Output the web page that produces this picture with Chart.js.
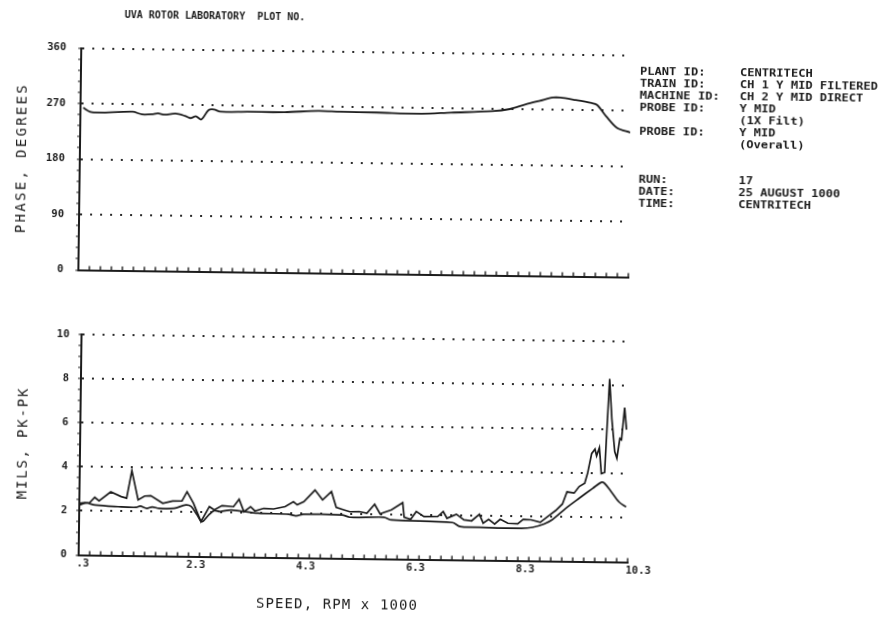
<!DOCTYPE html>
<html>
<head>
<meta charset="utf-8">
<title>UVA Rotor Laboratory</title>
<script src="https://cdn.jsdelivr.net/npm/chart.js@4.4.1/dist/chart.umd.min.js"></script>
<style>
  html, body { margin: 0; padding: 0; background: #ffffff; overflow: hidden; }
  #sheet {
    position: relative; width: 884px; height: 628px; background: #ffffff;
    transform: rotate(0.75deg); transform-origin: 354px 300px;
  }
  #phaseCanvas { position: absolute; left: 0; top: 0; }
  #milsCanvas { position: absolute; left: 0; top: 300px; }
</style>
</head>
<body>
<div id="sheet">
  <canvas id="phaseCanvas" width="884" height="300"></canvas>
  <canvas id="milsCanvas" width="884" height="328"></canvas>
</div>
<script>
// Axis tick values and labels
const phaseTicks = [0, 90, 180, 270, 360];
const milsTicks = [0, 2, 4, 6, 8, 10];
const speedTicks = [0.3, 2.3, 4.3, 6.3, 8.3, 10.3];
const speedTickLabels = ['.3', '2.3', '4.3', '6.3', '8.3', '10.3'];

// Phase of the 1X filtered signal, degrees vs speed (RPM x 1000)
const phaseRpm = [0.35, 0.48, 0.65, 1.25, 1.42, 1.62, 1.71, 1.83, 2.03, 2.20, 2.30, 2.40, 2.50, 2.63, 2.73, 2.84,
  3.34, 4.01, 4.62, 5.02, 5.69, 6.50, 7.04, 7.78, 8.11, 8.38, 8.65, 8.89, 9.02, 9.26, 9.59, 9.69, 9.86, 10.06, 10.30];
const phaseDeg = [263, 256.5, 255.5, 257.5, 253.5, 254, 255.5, 253.5, 255.5, 252, 248.5, 251.5, 246.5, 262, 263, 259.5,
  260, 260, 263, 262, 261.5, 260.5, 263, 266, 270, 277.5, 284, 289.5, 289.5, 286.5, 281.5, 278.5, 260, 241.5, 234.5];

// Overall (direct) amplitude, mils pk-pk
const overallRpm = [0.30, 0.38, 0.49, 0.58, 0.66, 0.87, 1.06, 1.16, 1.25, 1.37, 1.49, 1.60, 1.82, 2.00, 2.17, 2.26,
  2.38, 2.52, 2.67, 2.76, 2.90, 3.11, 3.21, 3.30, 3.42, 3.50, 3.66, 3.84, 4.05, 4.20, 4.27, 4.39, 4.59, 4.73, 4.89,
  4.98, 5.12, 5.23, 5.40, 5.54, 5.68, 5.78, 5.99, 6.19, 6.22, 6.34, 6.44, 6.58, 6.83, 6.93, 7.00, 7.17, 7.31, 7.45,
  7.59, 7.66, 7.76, 7.87, 7.97, 8.11, 8.29, 8.39, 8.53, 8.70, 8.86, 8.98, 9.10, 9.18, 9.31, 9.40, 9.50, 9.55, 9.62,
  9.68, 9.71, 9.76, 9.80, 9.86, 9.93, 9.98, 10.04, 10.08, 10.13, 10.16, 10.21, 10.25];
const overallMils = [2.26, 2.34, 2.38, 2.62, 2.46, 2.88, 2.67, 2.60, 3.85, 2.53, 2.71, 2.73, 2.39, 2.50, 2.51, 2.93,
  2.41, 1.58, 2.27, 2.12, 2.32, 2.28, 2.62, 2.06, 2.29, 2.10, 2.22, 2.20, 2.31, 2.54, 2.40, 2.55, 3.08, 2.64, 3.02,
  2.31, 2.20, 2.12, 2.13, 2.06, 2.47, 2.04, 2.23, 2.56, 1.90, 1.81, 2.17, 1.94, 1.95, 2.18, 1.88, 2.07, 1.82, 1.78,
  2.08, 1.68, 1.86, 1.65, 1.87, 1.69, 1.67, 1.88, 1.86, 1.75, 2.07, 2.30, 2.60, 3.15, 3.10, 3.40, 3.55, 4.00, 4.90,
  5.10, 4.80, 5.17, 4.00, 4.05, 8.30, 6.47, 5.00, 4.70, 5.60, 5.55, 7.00, 6.00];

// 1X filtered amplitude, mils pk-pk
const filteredRpm = [0.30, 0.42, 0.59, 1.01, 1.34, 1.41, 1.53, 1.63, 1.75, 2.03, 2.24, 2.34, 2.45, 2.54, 2.66, 2.76,
  2.87, 3.07, 3.56, 4.12, 4.25, 4.39, 5.09, 5.23, 5.85, 5.99, 7.10, 7.24, 7.59, 8.36, 8.56, 8.77, 8.92, 9.16, 9.41,
  9.65, 9.80, 9.86, 9.98, 10.13, 10.26];
const filteredMils = [2.34, 2.37, 2.27, 2.21, 2.19, 2.25, 2.15, 2.22, 2.16, 2.17, 2.33, 2.26, 1.88, 1.58, 1.89, 2.09,
  2.05, 2.13, 2.00, 1.97, 1.90, 1.98, 1.97, 1.87, 1.89, 1.77, 1.69, 1.51, 1.49, 1.47, 1.52, 1.68, 1.88, 2.40, 2.88,
  3.33, 3.60, 3.56, 3.20, 2.72, 2.50];

// Header and run information block
const headerText = 'UVA ROTOR LABORATORY  PLOT NO.';
const infoLabels = ['PLANT ID:', 'TRAIN ID:', 'MACHINE ID:', 'PROBE ID:', '', 'PROBE ID:', '', '', '', 'RUN:', 'DATE:', 'TIME:'];
const infoValues = ['CENTRITECH', 'CH 1 Y MID FILTERED', 'CH 2 Y MID DIRECT', 'Y MID', '(1X Filt)', 'Y MID', '(Overall)',
  '', '', '17', '25 AUGUST 1000', 'CENTRITECH'];
const phaseTitle = 'PHASE, DEGREES';
const milsTitle = 'MILS, PK-PK';
const speedTitle = 'SPEED, RPM x 1000';

const INK = '#1c1c1c';
const DOT = '#2a2a2a';
const MONO = '"DejaVu Sans Mono", "Liberation Mono", monospace';

function toPoints(xs, ys) {
  return xs.map((x, i) => ({ x: x, y: ys[i] }));
}

function gridColor(majors) {
  return ctx => {
    const v = ctx.tick ? ctx.tick.value : null;
    return (v !== null && v > 0 && majors.includes(v)) ? DOT : 'rgba(0,0,0,0)';
  };
}

// Draws one text item: optional rotation, horizontal stretch and letter spacing
function drawText(ctx, item) {
  ctx.save();
  ctx.translate(item.x, item.y);
  if (item.rotate) ctx.rotate(item.rotate);
  ctx.scale(item.sx || 1, 1);
  ctx.font = item.font;
  ctx.fillStyle = INK;
  ctx.textAlign = item.align || 'left';
  ctx.textBaseline = 'middle';
  if ('letterSpacing' in ctx) ctx.letterSpacing = (item.spacing || 0) + 'px';
  ctx.fillText(item.text, 0, 0);
  ctx.restore();
}

// Free text drawn onto the chart canvas
const sheetText = {
  id: 'sheetText',
  afterDraw(chart, args, opts) {
    (opts.items || []).forEach(item => drawText(chart.ctx, item));
  }
};

// Short upward tick marks along the speed axis, plotter style
const axisTickMarks = {
  id: 'axisTickMarks',
  afterDraw(chart, args, opts) {
    const xs = chart.scales.x;
    const { ctx, chartArea } = chart;
    const n = Math.round((xs.max - xs.min) / opts.step);
    ctx.save();
    ctx.strokeStyle = INK;
    ctx.lineWidth = 1.4;
    ctx.beginPath();
    for (let k = 0; k <= n; k++) {
      const px = xs.getPixelForValue(xs.min + k * opts.step);
      ctx.moveTo(px, chartArea.bottom);
      ctx.lineTo(px, chartArea.bottom - opts.length);
    }
    ctx.stroke();
    ctx.restore();
  }
};

const tickFont = { family: MONO, size: 10.5, weight: 'bold' };

// Information block items
const infoItems = [];
infoLabels.forEach((t, i) => {
  if (t) infoItems.push({ text: t, x: 637, y: 68 + i * 12, font: 'bold 10.5px ' + MONO, sx: 1.15 });
});
infoValues.forEach((t, i) => {
  if (t) infoItems.push({ text: t, x: 737, y: 68 + i * 12, font: 'bold 10.5px ' + MONO, sx: 1.15 });
});

new Chart(document.getElementById('phaseCanvas'), {
  type: 'line',
  data: {
    datasets: [{
      data: toPoints(phaseRpm, phaseDeg),
      borderColor: INK, borderWidth: 1.8, pointRadius: 0, tension: 0.3, fill: false
    }]
  },
  options: {
    responsive: false, animation: false, events: [],
    layout: { padding: { left: 0, top: 51.5, right: 884 - 628, bottom: 0 } },
    scales: {
      x: {
        type: 'linear', min: 0.3, max: 10.3,
        afterFit: s => { s.height = 300 - 273.5; },
        grid: { display: false },
        ticks: { display: false },
        border: { display: true, color: INK, width: 2 }
      },
      y: {
        min: 0, max: 360,
        afterFit: s => { s.width = 78; },
        ticks: {
          stepSize: 18, autoSkip: false, padding: 12, color: INK, font: tickFont,
          callback: v => phaseTicks.includes(v) ? String(v) : ''
        },
        grid: { color: gridColor(phaseTicks), lineWidth: 2, tickColor: INK, tickLength: 3, tickWidth: 1.2 },
        border: { display: true, color: INK, width: 2, dash: [2, 8] }
      }
    },
    plugins: {
      legend: { display: false },
      tooltip: { enabled: false },
      axisTickMarks: { step: 0.2, length: 4 },
      sheetText: {
        items: [
          { text: headerText, x: 121, y: 18, font: 'bold 10px ' + MONO },
          { text: phaseTitle, x: 20.6, y: 162.3, rotate: -Math.PI / 2, align: 'center', font: '14px ' + MONO, spacing: 2.3 }
        ].concat(infoItems)
      }
    }
  },
  plugins: [axisTickMarks, sheetText]
});

new Chart(document.getElementById('milsCanvas'), {
  type: 'line',
  data: {
    datasets: [
      {
        label: 'Overall',
        data: toPoints(overallRpm, overallMils),
        borderColor: INK, borderWidth: 1.7, pointRadius: 0, tension: 0, fill: false
      },
      {
        label: '1X Filt',
        data: toPoints(filteredRpm, filteredMils),
        borderColor: INK, borderWidth: 1.7, pointRadius: 0, tension: 0.3, fill: false
      }
    ]
  },
  options: {
    responsive: false, animation: false, events: [],
    layout: { padding: { left: 0, top: 38, right: 884 - 631, bottom: 0 } },
    scales: {
      x: {
        type: 'linear', min: 0.3, max: 10.3,
        afterFit: s => { s.height = 328 - 258.5; },
        afterBuildTicks: s => { s.ticks = speedTicks.map(v => ({ value: v })); },
        grid: { display: false, drawTicks: false, tickLength: 0 },
        ticks: {
          autoSkip: false, maxRotation: 0, minRotation: 0, align: 'start', padding: 2, labelOffset: -2,
          color: INK, font: { family: MONO, size: 10.5, weight: 'bold' },
          callback: (v, i) => speedTickLabels[i]
        },
        border: { display: true, color: INK, width: 2 }
      },
      y: {
        min: 0, max: 10,
        afterFit: s => { s.width = 82; },
        ticks: {
          stepSize: 0.5, autoSkip: false, padding: 9, color: INK, font: tickFont,
          callback: v => milsTicks.includes(v) ? String(v) : ''
        },
        grid: { color: gridColor(milsTicks), lineWidth: 2, tickColor: INK, tickLength: 3, tickWidth: 1.2 },
        border: { display: true, color: INK, width: 2, dash: [2, 8] }
      }
    },
    plugins: {
      legend: { display: false },
      tooltip: { enabled: false },
      axisTickMarks: { step: 0.2, length: 4 },
      sheetText: {
        items: [
          { text: milsTitle, x: 25.4, y: 147.3, rotate: -Math.PI / 2, align: 'center', font: '14px ' + MONO, spacing: 1.8 },
          { text: speedTitle, x: 341, y: 305, align: 'center', font: '14px ' + MONO, spacing: 1.1 }
        ]
      }
    }
  },
  plugins: [axisTickMarks, sheetText]
});
</script>
</body>
</html>
